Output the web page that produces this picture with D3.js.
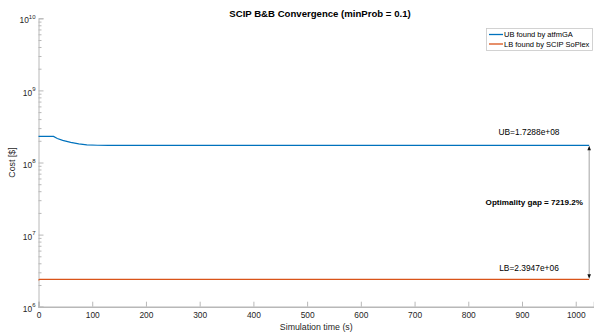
<!DOCTYPE html>
<html>
<head>
<meta charset="utf-8">
<script src="https://cdn.jsdelivr.net/npm/d3@7"></script>
<style>
  body { margin: 0; background: #fff; }
  svg { display: block; font-family: "Liberation Sans", Arial, Helvetica, sans-serif; }
</style>
</head>
<body>
<div id="chart"></div>
<script>
// UB (atfmGA) and LB (SCIP SoPlex) over simulation time
const timeUB = [0, 28, 35, 45, 60, 75, 90, 110, 130, 1025];
const costUB = [2.30e8, 2.30e8, 2.15e8, 2.03e8, 1.90e8, 1.81e8, 1.76e8, 1.735e8, 1.7288e8, 1.7288e8];
const timeLB = [0, 2, 1025];
const costLB = [2.33e6, 2.3947e6, 2.3947e6];

const xTicks = [0, 100, 200, 300, 400, 500, 600, 700, 800, 900, 1000];
const yDecades = [6, 7, 8, 9, 10];
const seriesNames = ['UB found by atfmGA', 'LB found by SCIP SoPlex'];
const seriesColors = ['#0072BD', '#D95319'];

const ubFinal = 1.7288e8, lbFinal = 2.3947e6;
const gapLabel = 'Optimality gap = 7219.2%';

const width = 594, height = 335;
const margin = { top: 18.3, right: 0, bottom: 28.3, left: 38.5 };

const svg = d3.select('#chart').append('svg')
  .attr('width', width)
  .attr('height', height);

const x = d3.scaleLinear()
  .domain([0, 1034])
  .range([margin.left, width - margin.right]);

const y = d3.scaleLog()
  .domain([1e6, 1e10])
  .range([height - margin.bottom, margin.top]);

const axisColor = '#b8b8b8';
const textColor = '#262626';

// x axis, ticks pointing inward
const gx = svg.append('g')
  .attr('transform', `translate(0,${height - margin.bottom})`)
  .call(d3.axisBottom(x).tickValues(xTicks).tickSize(-5).tickPadding(5).tickFormat(d3.format('d')));
gx.select('.domain').attr('stroke', axisColor).attr('stroke-width', 1.6);
gx.selectAll('.tick line').attr('stroke', axisColor);
gx.selectAll('.tick text').attr('fill', textColor).attr('font-size', 8.4).attr('font-family', null);

// y axis minor ticks
const minors = [];
yDecades.slice(0, -1).forEach(e => { for (let m = 2; m < 10; m++) minors.push(m * Math.pow(10, e)); });
const gyMinor = svg.append('g')
  .attr('transform', `translate(${margin.left},0)`)
  .call(d3.axisLeft(y).tickValues(minors).tickSize(-3).tickFormat(''));
gyMinor.select('.domain').remove();
gyMinor.selectAll('.tick line').attr('stroke', axisColor);

// y axis major ticks with 10^n labels
const gy = svg.append('g')
  .attr('transform', `translate(${margin.left},0)`)
  .call(d3.axisLeft(y).tickValues(yDecades.map(e => Math.pow(10, e))).tickSize(-5).tickPadding(3).tickFormat(''));
gy.select('.domain').attr('stroke', axisColor);
gy.selectAll('.tick line').attr('stroke', axisColor);
gy.selectAll('.tick').each(function(d) {
  const t = d3.select(this).append('text')
    .attr('fill', textColor)
    .attr('font-size', 8.4)
    .attr('text-anchor', 'end')
    .attr('x', -3)
    .attr('dy', '0.55em');
  t.append('tspan').text('10');
  t.append('tspan').attr('font-size', 6).attr('dy', '-0.75em').text(Math.round(Math.log10(d)));
});

// lines
const line = d3.line().x(d => x(d[0])).y(d => y(d[1]));
svg.append('path')
  .datum(d3.zip(timeUB, costUB))
  .attr('fill', 'none')
  .attr('stroke', seriesColors[0])
  .attr('stroke-width', 1.2)
  .attr('d', line);
svg.append('path')
  .datum(d3.zip(timeLB, costLB))
  .attr('fill', 'none')
  .attr('stroke', seriesColors[1])
  .attr('stroke-width', 1.2)
  .attr('d', line);

// double arrow for the gap
const tEnd = timeUB[timeUB.length - 1];
const ax = x(tEnd);
svg.append('line')
  .attr('x1', ax).attr('x2', ax)
  .attr('y1', y(ubFinal) + 3).attr('y2', y(lbFinal) - 3)
  .attr('stroke', '#8c8c8c').attr('stroke-width', 0.8);
svg.append('path')
  .attr('d', `M${ax},${y(ubFinal) + 0.5}l-1.8,4.5h3.6z`)
  .attr('fill', '#111');
svg.append('path')
  .attr('d', `M${ax},${y(lbFinal) - 0.5}l-1.8,-4.5h3.6z`)
  .attr('fill', '#111');

// annotations
svg.append('text')
  .attr('x', 529).attr('y', y(ubFinal) - 10)
  .attr('text-anchor', 'middle').attr('font-size', 8.4).attr('fill', '#000')
  .text('UB=' + ubFinal.toExponential(4).replace('e+', 'e+0'));
svg.append('text')
  .attr('x', 529).attr('y', y(lbFinal) - 8)
  .attr('text-anchor', 'middle').attr('font-size', 8.4).attr('fill', '#000')
  .text('LB=' + lbFinal.toExponential(4).replace('e+', 'e+0'));
svg.append('text')
  .attr('x', 583).attr('y', 205)
  .attr('text-anchor', 'end').attr('font-size', 8.1).attr('font-weight', 'bold').attr('fill', '#000')
  .text(gapLabel);

// title and axis labels
svg.append('text')
  .attr('x', 320).attr('y', 16.5)
  .attr('text-anchor', 'middle').attr('font-size', 9.6).attr('font-weight', 'bold').attr('fill', '#000')
  .text('SCIP B&B Convergence (minProb = 0.1)');
svg.append('text')
  .attr('x', (margin.left + width) / 2).attr('y', 330)
  .attr('text-anchor', 'middle').attr('font-size', 8.8).attr('fill', textColor)
  .text('Simulation time (s)');
svg.append('text')
  .attr('transform', `translate(15,${(margin.top + height - margin.bottom) / 2}) rotate(-90)`)
  .attr('text-anchor', 'middle').attr('font-size', 8.8).attr('fill', textColor)
  .text('Cost [$]');

// legend
const lg = svg.append('g').attr('transform', 'translate(486,28)');
lg.append('rect')
  .attr('x', 0.5).attr('y', 0.5).attr('width', 106).attr('height', 22)
  .attr('fill', '#fff').attr('stroke', '#c8c8c8').attr('stroke-width', 0.8);
seriesNames.forEach((name, i) => {
  const yy = 6.5 + i * 9.5;
  lg.append('line')
    .attr('x1', 3).attr('x2', 17).attr('y1', yy).attr('y2', yy)
    .attr('stroke', seriesColors[i]).attr('stroke-width', 1.3);
  lg.append('text')
    .attr('x', 18).attr('y', yy).attr('dy', '0.35em')
    .attr('font-size', 7.5).attr('fill', '#000')
    .text(name);
});
</script>
</body>
</html>
